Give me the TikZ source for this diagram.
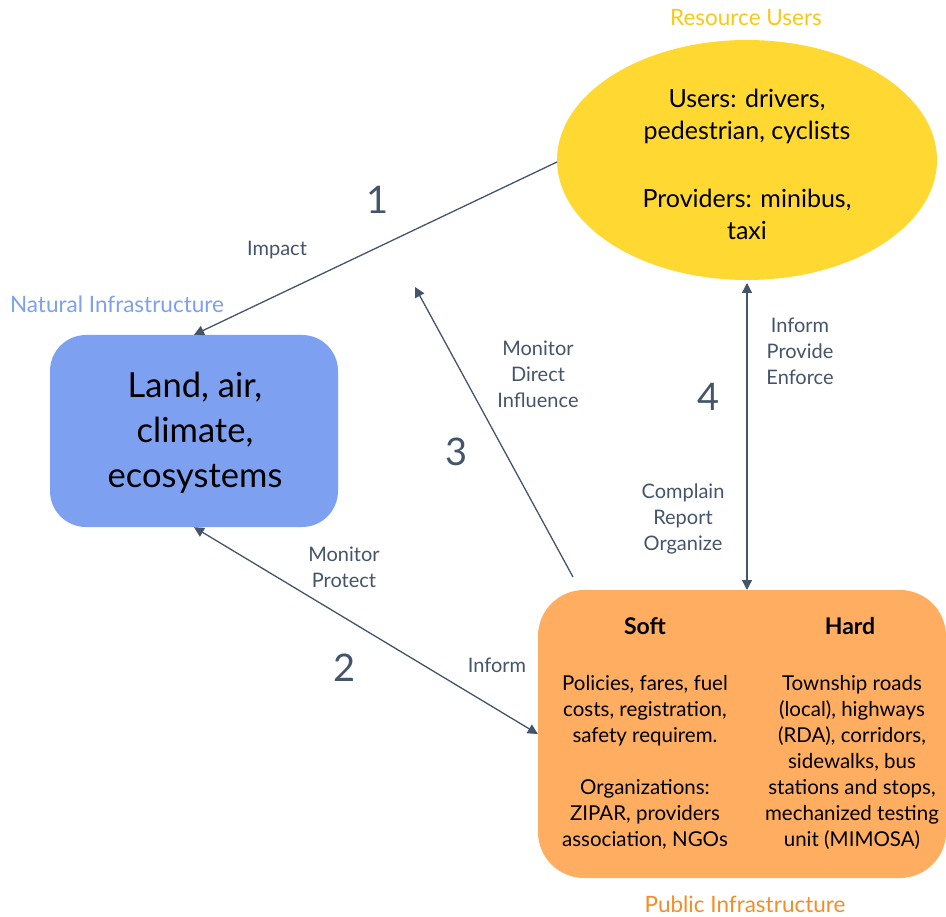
\documentclass[tikz,border=0pt]{standalone}
\usepackage{fontspec}
\setmainfont{Lato}
\usetikzlibrary{arrows.meta}
\definecolor{ink}{RGB}{68,84,106}
\definecolor{yfill}{RGB}{255,217,50}
\definecolor{ytext}{RGB}{250,200,20}
\definecolor{bfill}{RGB}{125,160,240}
\definecolor{btext}{RGB}{125,160,240}
\definecolor{ofill}{RGB}{255,173,96}
\definecolor{otext}{RGB}{245,140,40}
\tikzset{
  conn/.style={draw=ink, line width=1.3pt, -{Triangle[length=10pt,width=10pt]}},
  conn2/.style={draw=ink, line width=1.3pt, {Triangle[length=10pt,width=10pt]}-{Triangle[length=10pt,width=10pt]}},
  lbl/.style={text=ink, font=\fontsize{20}{26}\selectfont, align=center, inner sep=0pt},
  num/.style={text=ink, font=\fontsize{38}{40}\selectfont, inner sep=0pt},
  title/.style={font=\fontsize{22.5}{24}\selectfont, inner sep=0pt},
  boxtxt/.style={font=\fontsize{20.5}{26}\selectfont, align=center, inner sep=0pt},
  boxhead/.style={font=\bfseries\fontsize{23}{26}\selectfont, inner sep=0pt},
}
\begin{document}
\begin{tikzpicture}[x=1pt,y=-1pt]
\useasboundingbox (0,0) rectangle (946,917);
% shapes
\draw[fill=yfill, draw=none] (747,160) ellipse [x radius=190, y radius=120];
\node[draw=none, minimum width=380pt, minimum height=240pt, inner sep=0pt, shape=rectangle] (users) at (747,160) {};
\node[fill=bfill, rounded corners=36pt, minimum width=288pt, minimum height=192pt, inner sep=0pt] (nat) at (194,431) {};
\node[fill=ofill, rounded corners=46pt, minimum width=408pt, minimum height=288pt, inner sep=0pt] (pub) at (742,734) {};
% ellipse text
\node[font=\fontsize{25}{32}\selectfont, align=center, inner sep=0pt] (utxt) at (747,164)
  {Users: drivers,\\pedestrian, cyclists\\[36pt]Providers: minibus,\\taxi};
\node[font=\fontsize{34.5}{45}\selectfont, align=center, inner sep=0pt] (ntxt) at (195,433)
  {Land, air,\\climate,\\ecosystems};
\node[boxhead] (soft) at (645,626) {Soft};
\node[boxhead] (hard) at (850,626) {Hard};
\node[boxtxt] (softb) at (645,762)
  {Policies, fares, fuel\\costs, registration,\\safety requirem.\\[26pt]Organizations:\\ZIPAR, providers\\association, NGOs};
\node[boxtxt] (hardb) at (852,762)
  {Township roads\\(local), highways\\(RDA), corridors,\\sidewalks, bus\\stations and stops,\\mechanized testing\\unit (MIMOSA)};
% titles
\node[title, text=ytext] (t1) at (746,18) {Resource Users};
\node[title, text=btext] (t2) at (117,304) {Natural Infrastructure};
\node[title, text=otext] (t3) at (745,904) {Public Infrastructure};
% connectors
\coordinate (u1) at (557,162);
\draw[conn] (u1) -- (nat.north);
\draw[conn2] (nat.south) -- (pub.west);
\coordinate (a3s) at (573,577);
\coordinate (a3e) at (415,287);
\draw[conn] (a3s) -- (a3e);
\coordinate (a4s) at (747,283);
\coordinate (a4e) at (747,590);
\draw[conn2] (a4s) -- (a4e);
% labels
\node[num] (n1) at (378,200) {1};
\node[lbl] (l1) at (277,250) {Impact};
\node[num] (n3) at (457,452) {3};
\node[lbl] (l3) at (538,374) {Monitor\\Direct\\Influence};
\node[num] (n4) at (709,397) {4};
\node[lbl] (l4a) at (800,351) {Inform\\Provide\\Enforce};
\node[lbl] (l4b) at (683,519) {Complain\\Report\\Organize};
\node[lbl] (l2a) at (344,567) {Monitor\\Protect};
\node[num] (n2) at (345,668) {2};
\node[lbl] (l2b) at (497,665) {Inform};
\end{tikzpicture}
\end{document}
